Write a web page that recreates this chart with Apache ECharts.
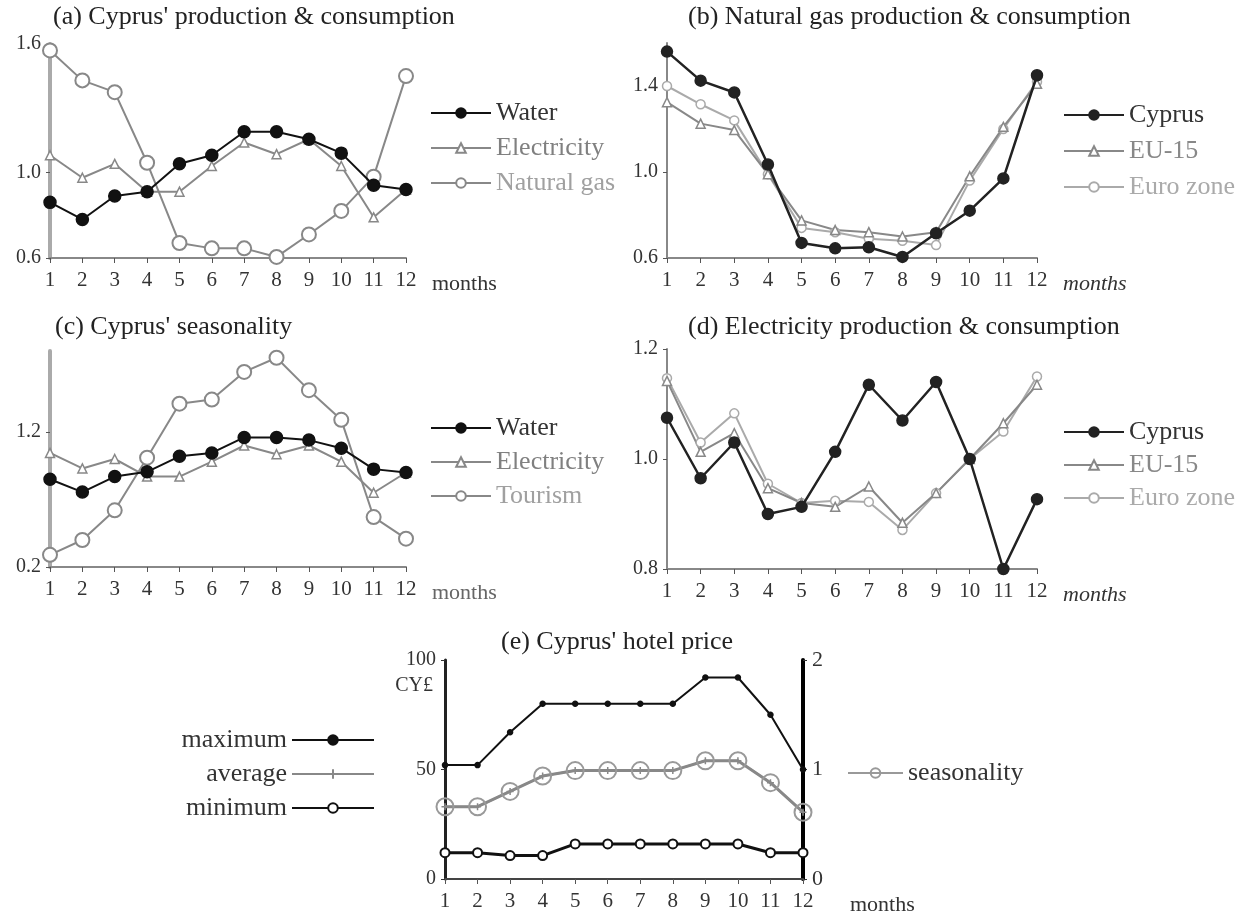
<!DOCTYPE html>
<html>
<head>
<meta charset="utf-8">
<title>Cyprus seasonality</title>
<script src="https://cdn.jsdelivr.net/npm/echarts@6/dist/echarts.min.js"></script>
<style>
	html, body { margin: 0; padding: 0; background: #fff; }
	#main { width: 1246px; height: 916px; }
</style>
</head>
<body>
<div id="main"></div>
<script>
// 数据
var months = ['1', '2', '3', '4', '5', '6', '7', '8', '9', '10', '11', '12'];

// (a) Cyprus' production & consumption
var waterA = [0.86, 0.78, 0.89, 0.91, 1.04, 1.08, 1.19, 1.19, 1.155, 1.09, 0.94, 0.92];
var electricityA = [1.08, 0.975, 1.04, 0.91, 0.91, 1.03, 1.14, 1.085, 1.155, 1.03, 0.79, 0.92];
var gasA = [1.57, 1.43, 1.375, 1.045, 0.67, 0.645, 0.645, 0.605, 0.71, 0.82, 0.98, 1.45];

// (b) Natural gas production & consumption
var cyprusB = [1.56, 1.425, 1.37, 1.035, 0.67, 0.645, 0.65, 0.605, 0.715, 0.82, 0.97, 1.45];
var eu15B = [1.325, 1.225, 1.195, 0.99, 0.775, 0.73, 0.72, 0.70, 0.72, 0.98, 1.21, 1.41];
var euroB = [1.40, 1.315, 1.24, 0.99, 0.74, 0.72, 0.69, 0.68, 0.66, 0.96, 1.20, 1.42];

// (c) Cyprus' seasonality
var waterC = [0.85, 0.755, 0.87, 0.905, 1.02, 1.045, 1.16, 1.16, 1.14, 1.08, 0.925, 0.90];
var electricityC = [1.045, 0.93, 1.0, 0.87, 0.87, 0.98, 1.10, 1.035, 1.10, 0.98, 0.75, 0.90];
var tourismC = [0.29, 0.40, 0.62, 1.01, 1.41, 1.44, 1.645, 1.75, 1.51, 1.29, 0.57, 0.41];

// (d) Electricity production & consumption
var cyprusD = [1.075, 0.965, 1.03, 0.90, 0.913, 1.013, 1.135, 1.07, 1.14, 1.0, 0.80, 0.927];
var eu15D = [1.142, 1.013, 1.047, 0.947, 0.92, 0.913, 0.95, 0.884, 0.938, 1.0, 1.065, 1.135];
var euroD = [1.147, 1.03, 1.083, 0.955, 0.92, 0.924, 0.922, 0.871, 0.938, 1.0, 1.05, 1.15];

// (e) Cyprus' hotel price
var maxE = [52, 52, 67, 80, 80, 80, 80, 80, 92, 92, 75, 50];
var avgE = [33, 33, 40, 47, 49.5, 49.5, 49.5, 49.5, 54, 54, 44, 30.5];
var minE = [12, 12, 10.7, 10.7, 16, 16, 16, 16, 16, 16, 12, 12];
var seasonE = [0.66, 0.66, 0.80, 0.94, 0.99, 0.99, 0.99, 0.99, 1.08, 1.08, 0.88, 0.61];

var font = 'Liberation Serif';
var plus = 'path://M0,5L10,5M5,0L5,10';

function xAxisOf(grid, nameStyle, lineColor) {
	return {
		type: 'category',
		gridIndex: grid,
		data: months,
		boundaryGap: false,
		name: 'months',
		nameLocation: 'end',
		nameGap: 26,
		nameTextStyle: Object.assign({
			fontFamily: font, fontSize: 22, color: '#333',
			verticalAlign: 'top', padding: [15, 0, 0, 0]
		}, nameStyle || {}),
		axisLine: { lineStyle: { color: lineColor || '#888', width: 2 } },
		axisTick: { show: true, length: 5, alignWithLabel: true, lineStyle: { color: '#555' } },
		axisLabel: { fontFamily: font, fontSize: 21, color: '#333', margin: 12 },
		splitLine: { show: false }
	};
}

function yAxisOf(grid, min, max, labels, lineColor, lineWidth) {
	return {
		type: 'value',
		gridIndex: grid,
		min: min,
		max: max,
		axisLine: { show: true, lineStyle: { color: lineColor, width: lineWidth } },
		axisTick: { show: true, length: 4, customValues: labels, lineStyle: { color: '#555' } },
		axisLabel: {
			fontFamily: font, fontSize: 20, color: '#333', margin: 9,
			customValues: labels,
			formatter: function(v) { return v.toFixed(1); }
		},
		splitLine: { show: false }
	};
}

function line(name, data, idx, opt) {
	return {
		name: name,
		type: 'line',
		xAxisIndex: idx,
		yAxisIndex: opt.y == null ? idx : opt.y,
		data: data,
		symbol: opt.symbol,
		symbolSize: opt.size,
		showAllSymbol: true,
		z: opt.z || 2,
		lineStyle: { color: opt.color, width: opt.width || 2 },
		itemStyle: {
			color: opt.fill || opt.color,
			borderColor: opt.color,
			borderWidth: opt.border || 1.5
		},
		emphasis: { disabled: true }
	};
}

function legendOf(names, colors, left, top, gap, width) {
	return {
		orient: 'vertical',
		left: left,
		top: top,
		padding: 0,
		itemGap: gap,
		itemWidth: width,
		itemHeight: 12,
		selectedMode: false,
		data: names.map(function(n, i) {
			return { name: n, textStyle: { color: colors[i] } };
		}),
		textStyle: { fontFamily: font, fontSize: 26, lineHeight: 26 }
	};
}

var myChart = echarts.init(document.getElementById('main'));

var titleStyle = { fontFamily: font, fontSize: 26, fontWeight: 'normal', color: '#222' };

function titleOf(text, left, top) {
	return { text: text, left: left, top: top, padding: 0, textStyle: titleStyle };
}

var option = {
	backgroundColor: '#fff',
	animation: false,
	title: [
		titleOf("(a) Cyprus' production & consumption", 53, 4),
		titleOf('(b) Natural gas production & consumption', 688, 4),
		titleOf("(c) Cyprus' seasonality", 55, 314),
		titleOf('(d) Electricity production & consumption', 688, 314),
		titleOf("(e) Cyprus' hotel price", 501, 629)
	],
	grid: [
		{ left: 50, top: 44, width: 356, height: 214 },
		{ left: 667, top: 43, width: 370, height: 215 },
		{ left: 50, top: 351, width: 356, height: 216 },
		{ left: 667, top: 349, width: 370, height: 220 },
		{ left: 445, top: 660, width: 358, height: 220 }
	],
	legend: [
		legendOf(['Water', 'Electricity', 'Natural gas'], ['#333', '#808080', '#a0a0a0'], 430, 100, 9, 60),
		legendOf(['Cyprus', 'EU-15', 'Euro zone'], ['#333', '#888', '#aaa'], 1063, 102, 10, 60),
		legendOf(['Water', 'Electricity', 'Tourism'], ['#333', '#808080', '#a0a0a0'], 430, 415, 8, 60),
		legendOf(['Cyprus', 'EU-15', 'Euro zone'], ['#333', '#888', '#aaa'], 1063, 419, 7, 60),
		Object.assign(legendOf(['maximum', 'average', 'minimum'], ['#333', '#333', '#333'], null, 727, 8, 82),
			{ left: null, right: 871, align: 'right' }),
		legendOf(['seasonality'], ['#333'], 847, 760, 8, 55)
	],
	xAxis: [
		xAxisOf(0),
		xAxisOf(1, { fontStyle: 'italic' }),
		xAxisOf(2, { color: '#666' }),
		xAxisOf(3, { fontStyle: 'italic' }),
		Object.assign(xAxisOf(4, null, '#444'), { nameGap: 47 })
	],
	yAxis: [
		yAxisOf(0, 0.6, 1.6, [0.6, 1.0, 1.6], '#aaa', 4),
		yAxisOf(1, 0.6, 1.6, [0.6, 1.0, 1.4], '#888', 2),
		yAxisOf(2, 0.2, 1.8, [0.2, 1.2], '#aaa', 4),
		yAxisOf(3, 0.8, 1.2, [0.8, 1.0, 1.2], '#888', 2),
		{
			type: 'value', gridIndex: 4, min: 0, max: 100, interval: 50,
			name: 'CY£', nameLocation: 'end', nameGap: -36,
			nameTextStyle: { fontFamily: font, fontSize: 20, color: '#333', align: 'right', padding: [0, 12, 0, 0] },
			axisLine: { show: true, lineStyle: { color: '#222', width: 3 } },
			axisTick: { show: true, length: 4, lineStyle: { color: '#333' } },
			axisLabel: { fontFamily: font, fontSize: 20, color: '#333', margin: 9 },
			splitLine: { show: false }
		},
		{
			type: 'value', gridIndex: 4, min: 0, max: 2, interval: 1, position: 'right',
			axisLine: { show: true, lineStyle: { color: '#000', width: 4 } },
			axisTick: { show: true, length: 4, lineStyle: { color: '#333' } },
			axisLabel: { fontFamily: font, fontSize: 22, color: '#333', margin: 9 },
			splitLine: { show: false }
		}
	],
	series: [
		line('Natural gas', gasA, 0, { symbol: 'circle', size: 14, color: '#888', fill: '#fff', border: 2 }),
		line('Electricity', electricityA, 0, { symbol: 'triangle', size: 9, color: '#888', fill: '#fff' }),
		line('Water', waterA, 0, { symbol: 'circle', size: 12, color: '#111', z: 3 }),

		line('Euro zone', euroB, 1, { symbol: 'circle', size: 9, color: '#aaa', fill: '#fff' }),
		line('EU-15', eu15B, 1, { symbol: 'triangle', size: 9, color: '#888', fill: '#fff' }),
		line('Cyprus', cyprusB, 1, { symbol: 'circle', size: 11, color: '#222', width: 2.5, z: 3 }),

		line('Tourism', tourismC, 2, { symbol: 'circle', size: 14, color: '#888', fill: '#fff', border: 2 }),
		line('Electricity', electricityC, 2, { symbol: 'triangle', size: 9, color: '#888', fill: '#fff' }),
		line('Water', waterC, 2, { symbol: 'circle', size: 12, color: '#111', z: 3 }),

		line('Euro zone', euroD, 3, { symbol: 'circle', size: 9, color: '#aaa', fill: '#fff' }),
		line('EU-15', eu15D, 3, { symbol: 'triangle', size: 9, color: '#888', fill: '#fff' }),
		line('Cyprus', cyprusD, 3, { symbol: 'circle', size: 11, color: '#222', width: 2.5, z: 3 }),

		line('seasonality', seasonE, 4, { y: 5, symbol: 'circle', size: 17, color: '#999', fill: 'rgba(255,255,255,0)', border: 2 }),
		line('average', avgE, 4, { y: 4, symbol: plus, size: 7, color: '#888', width: 3 }),
		line('minimum', minE, 4, { y: 4, symbol: 'circle', size: 9, color: '#111', fill: '#fff', width: 3, border: 2, z: 3 }),
		line('maximum', maxE, 4, { y: 4, symbol: 'circle', size: 5, color: '#111', width: 2, z: 3 })
	]
};

myChart.setOption(option);
</script>
</body>
</html>
